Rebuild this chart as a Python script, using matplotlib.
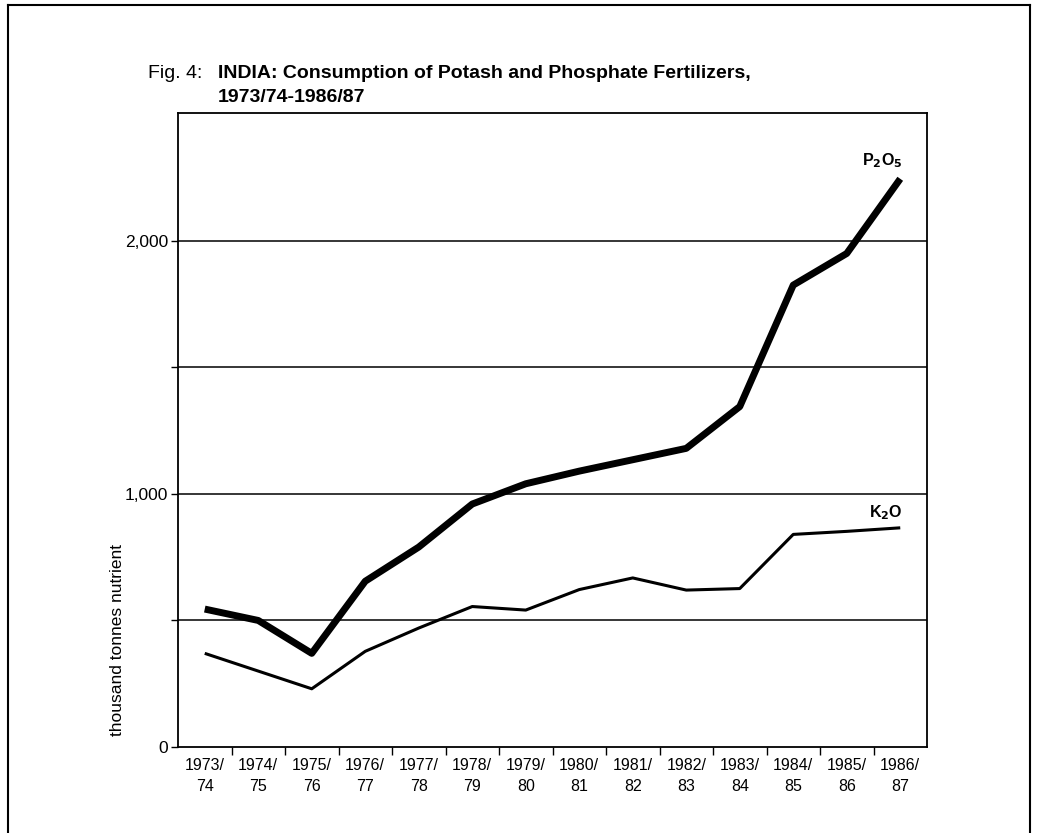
import matplotlib.pyplot as plt
from matplotlib.lines import Line2D
from matplotlib.ticker import FixedLocator, NullFormatter

plt.rcParams["font.family"] = ["Liberation Sans", "DejaVu Sans"]

# values (thousand tonnes nutrient)
years = ["1973/\n74", "1974/\n75", "1975/\n76", "1976/\n77", "1977/\n78", "1978/\n79", "1979/\n80",
         "1980/\n81", "1981/\n82", "1982/\n83", "1983/\n84", "1984/\n85", "1985/\n86", "1986/\n87"]
p2o5 = [545, 500, 370, 655, 790, 960, 1040, 1090, 1135, 1180, 1345, 1825, 1950, 2245]
k2o = [370, 300, 230, 378, 470, 555, 541, 622, 668, 620, 626, 840, 852, 866]
y_labels = {0: "0", 1000: "1,000", 2000: "2,000"}
grid_vals = [500, 1000, 1500, 2000]

W, H = 1039, 833
fig = plt.figure(figsize=(W / 100, H / 100), dpi=100)
ax = fig.add_axes([178 / W, 1 - 747 / H, (927 - 178) / W, (747 - 113) / H])

x = list(range(len(years)))
ax.plot(x, p2o5, color="black", lw=5.0, solid_joinstyle="round", solid_capstyle="butt", zorder=3)
ax.plot(x, k2o, color="black", lw=2.2, solid_joinstyle="round", solid_capstyle="butt", zorder=3)

ax.set_xlim(-0.5, 13.5)
ax.set_ylim(0, 2505)

for g in grid_vals:
    ax.axhline(g, color="black", lw=1.1, zorder=1)

# y axis: tick marks at every gridline, labels only at 0/1,000/2,000
ax.yaxis.set_major_locator(FixedLocator(list(y_labels)))
ax.set_yticklabels(list(y_labels.values()), fontsize=12.5)
ax.yaxis.set_minor_locator(FixedLocator([500, 1500]))
ax.tick_params(axis="y", which="both", direction="out", length=5, width=1, pad=2)

# x axis: tick marks between years, labels centred on years
ax.xaxis.set_major_locator(FixedLocator(x))
ax.set_xticklabels(years, fontsize=11.5, linespacing=1.45)
ax.tick_params(axis="x", which="major", length=0, pad=8)
ax.xaxis.set_minor_locator(FixedLocator([i + 0.5 for i in x[:-1]]))
ax.xaxis.set_minor_formatter(NullFormatter())
ax.tick_params(axis="x", which="minor", direction="out", length=6, width=1)

for s in ax.spines.values():
    s.set_linewidth(1.3)

ax.text(13.05, 2315, "P$_\\mathbf{2}$O$_\\mathbf{5}$", fontsize=11.5, fontweight="bold", ha="right", va="center")
ax.text(13.05, 925, "K$_\\mathbf{2}$O", fontsize=11.5, fontweight="bold", ha="right", va="center")

fig.text(117 / W, 1 - 640 / H, "thousand tonnes nutrient", rotation=90, fontsize=12.5, ha="center", va="center")

fig.text(148 / W, 1 - 73 / H, "Fig. 4:", fontsize=14, ha="left", va="center")
fig.text(218 / W, 1 - 73 / H, "INDIA: Consumption of Potash and Phosphate Fertilizers,",
         fontsize=14, fontweight="bold", ha="left", va="center")
fig.text(218 / W, 1 - 97 / H, "1973/74-1986/87", fontsize=14, fontweight="bold", ha="left", va="center")

# outer frame of the page
for xs, ys in [([8, 8], [5, 833]), ([8, 1030], [5, 5]), ([1030, 1030], [5, 833])]:
    fig.add_artist(Line2D([v / W for v in xs], [1 - v / H for v in ys], color="black", lw=1.5))

fig.savefig("out.png", dpi=100)
